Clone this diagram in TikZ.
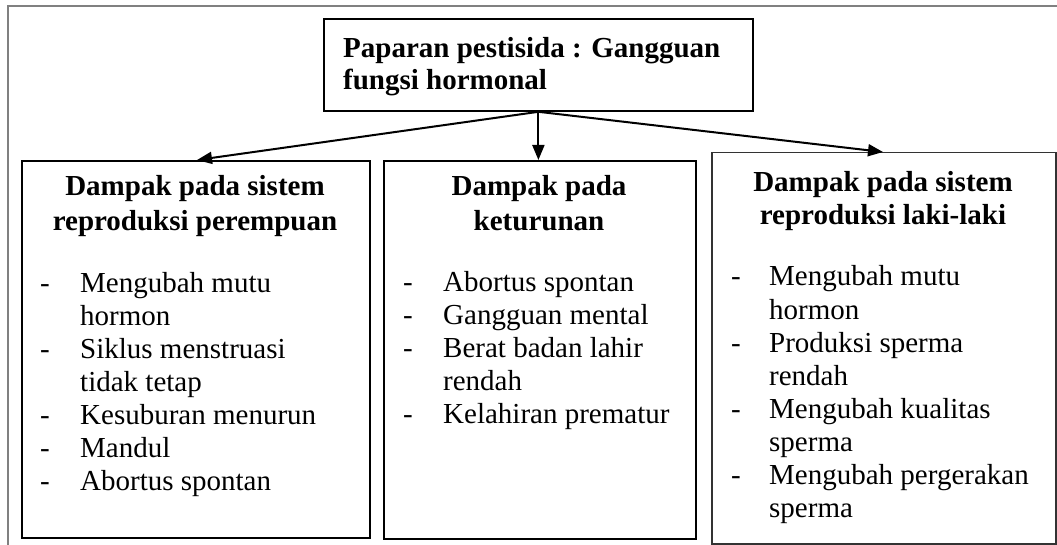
\documentclass[tikz,border=0pt]{standalone}
\usepackage{fontspec}
\setmainfont{Liberation Serif}
\usetikzlibrary{arrows.meta,calc}
\begin{document}
\begin{tikzpicture}[x=1pt,y=-1pt,
  box/.style={draw=black,line width=1.8pt,inner sep=0pt,anchor=north west},
  txt/.style={anchor=base west,inner sep=0pt,font=\fontsize{29}{33}\selectfont},
  head/.style={anchor=base,inner sep=0pt,font=\fontsize{29}{34}\selectfont\bfseries},
  headl/.style={anchor=base west,inner sep=0pt,font=\fontsize{29}{34}\selectfont\bfseries},
  link/.style={line width=2pt,-{Triangle[length=15pt,width=12pt]}}]
\useasboundingbox (0,0) rectangle (1057,545);

% open page frame (top and left edges only)
\draw[line width=1.6pt,black!50] (8,545) -- (8,6) -- (1057,6);

% boxes
\node[box,minimum width=429pt,minimum height=92pt] (root) at (323,18) {};
\node[box,minimum width=348pt,minimum height=377pt] (left) at (21,160) {};
\node[box,minimum width=312pt,minimum height=378pt] (mid) at (383,160) {};
\node[box,draw=black!80,line width=1.5pt,minimum width=344pt,minimum height=391pt] (right) at (711,152) {};

% connectors
\draw[link] (root.south) -- ($(left.north west)+(176,0)$);
\draw[link] (root.south) -- (root.south |- mid.north);
\draw[link] (root.south) -- ($(right.north west)+(172,0)$);

% root text
\node[headl] (r1) at (343,58) {Paparan pestisida : Gangguan};
\node[headl] (r2) at (343,90) {fungsi hormonal};

% left box
\node[head] (l1) at (195,196) {Dampak pada sistem};
\node[head] (l2) at (195,231) {reproduksi perempuan};
\foreach \y in {292,358,424,457,490}
  \node[txt] at (40,\y) {-};
\node[txt] (la) at (80,292) {Mengubah mutu};
\node[txt] (lb) at (80,325) {hormon};
\node[txt] (lc) at (80,358) {Siklus menstruasi};
\node[txt] (ld) at (80,391) {tidak tetap};
\node[txt] (le) at (80,424) {Kesuburan menurun};
\node[txt] (lf) at (80,457) {Mandul};
\node[txt] (lg) at (80,490) {Abortus spontan};

% middle box
\node[head] (m1) at (539,196) {Dampak pada};
\node[head] (m2) at (539,231) {keturunan};
\foreach \y in {291,324,357,423}
  \node[txt] at (403,\y) {-};
\node[txt] (ma) at (443,291) {Abortus spontan};
\node[txt] (mb) at (443,324) {Gangguan mental};
\node[txt] (mc) at (443,357) {Berat badan lahir};
\node[txt] (md) at (443,390) {rendah};
\node[txt] (me) at (443,423) {Kelahiran prematur};

% right box
\node[head] (q1) at (883,192) {Dampak pada sistem};
\node[head] (q2) at (883,225) {reproduksi laki-laki};
\foreach \y in {286,352,418,484}
  \node[txt] at (731,\y) {-};
\node[txt] (qa) at (769,286) {Mengubah mutu};
\node[txt] (qb) at (769,319) {hormon};
\node[txt] (qc) at (769,352) {Produksi sperma};
\node[txt] (qd) at (769,385) {rendah};
\node[txt] (qe) at (769,418) {Mengubah kualitas};
\node[txt] (qf) at (769,451) {sperma};
\node[txt] (qg) at (769,484) {Mengubah pergerakan};
\node[txt] (qh) at (769,517) {sperma};
\end{tikzpicture}
\end{document}
